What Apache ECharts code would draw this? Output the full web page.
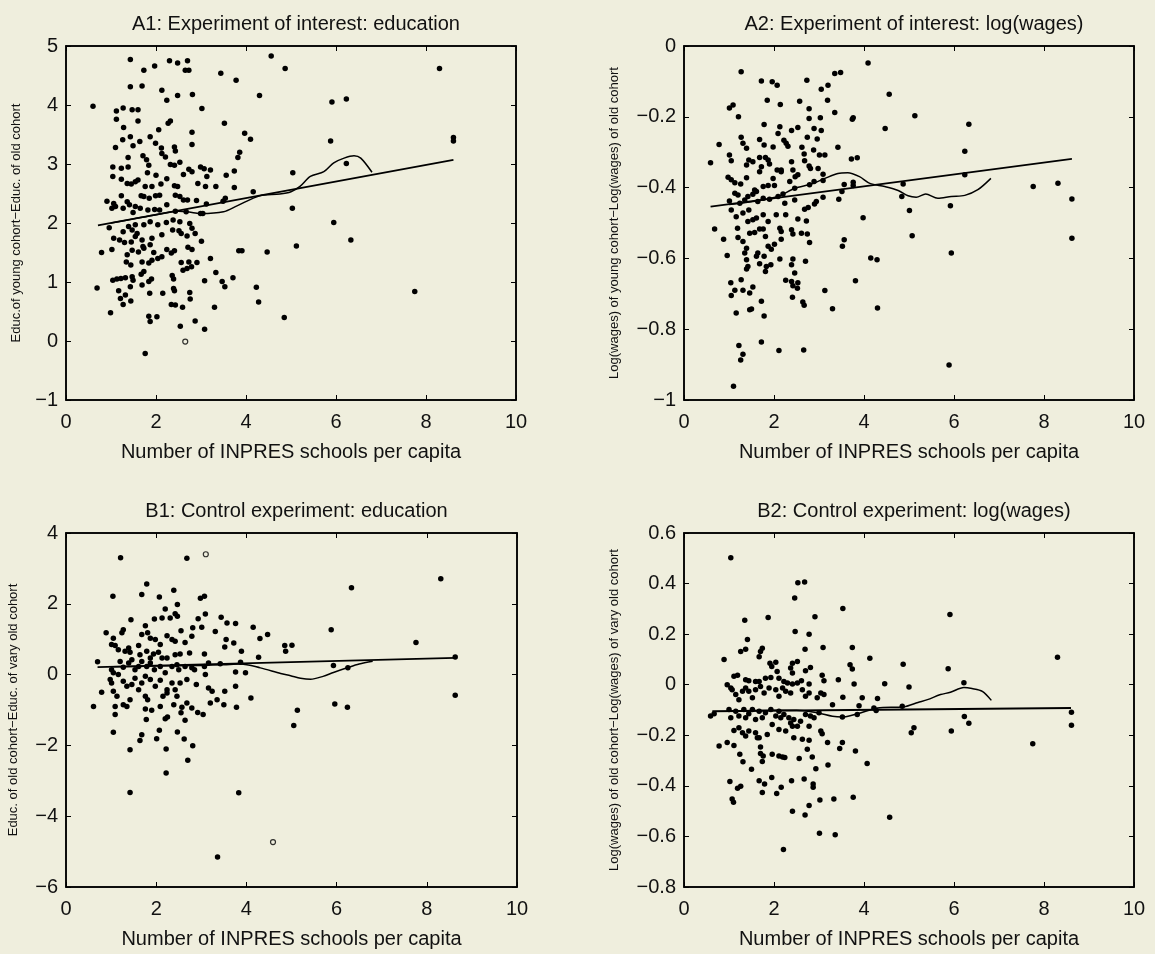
<!DOCTYPE html>
<html><head><meta charset="utf-8">
<script src="https://cdn.jsdelivr.net/npm/echarts@6/dist/echarts.min.js"></script>
<style>html,body{margin:0;padding:0;background:#efeedd}#c{width:1155px;height:954px}</style>
</head><body><div id="c"></div><script>
// ---------- DATA ----------
const xLabel = 'Number of INPRES schools per capita';
const titles = ['A1: Experiment of interest: education','A2: Experiment of interest: log(wages)','B1: Control experiment: education','B2: Control experiment: log(wages)'];
const yNames = ['Educ.of young cohort\u2212Educ. of old cohort','Log(wages) of young cohort\u2212Log(wages) of old cohort','Educ. of old cohort\u2212Educ. of vary old cohort','Log(wages) of old cohort\u2212Log(wages) of vary old cohort'];
const xRange = [0, 10, 2];
const yRanges = [[-1, 5, 1], [-1, 0, 0.2], [-6, 4, 2], [-0.8, 0.6, 0.2]];

const a1Points = [[1.43,4.77],[1.73,4.59],[1.97,4.66],[2.30,4.75],[2.48,4.71],[2.70,4.75],[2.65,4.59],[2.73,4.59],[3.44,4.54],[3.78,4.42],[4.56,4.83],[4.87,4.62],[1.43,4.31],[1.69,4.32],[2.13,4.25],[2.24,4.08],[2.48,4.16],[2.81,4.18],[4.30,4.16],[0.60,3.98],[1.12,3.90],[1.27,3.95],[1.47,3.92],[1.60,3.92],[1.12,3.76],[1.60,3.73],[2.27,3.69],[2.32,3.73],[3.02,3.94],[3.52,3.69],[1.28,3.62],[2.06,3.58],[2.80,3.54],[3.97,3.52],[4.10,3.42],[1.10,3.28],[1.26,3.41],[1.43,3.46],[1.49,3.31],[1.64,3.38],[1.87,3.46],[1.99,3.35],[2.12,3.27],[2.13,3.18],[2.21,3.12],[2.41,3.29],[2.43,3.22],[2.80,3.33],[3.86,3.20],[3.82,3.11],[1.38,3.11],[1.71,3.14],[1.79,3.07],[1.84,2.98],[1.04,2.95],[1.23,2.93],[1.38,2.95],[2.32,2.99],[2.41,2.98],[2.53,3.03],[2.73,2.91],[2.80,2.87],[2.99,2.95],[3.07,2.92],[3.21,2.90],[3.56,2.81],[3.74,2.88],[1.04,2.79],[1.23,2.74],[1.36,2.67],[1.45,2.66],[1.54,2.70],[1.60,2.73],[1.81,2.85],[2.00,2.81],[2.24,2.75],[2.61,2.82],[2.93,2.67],[3.13,2.79],[3.10,2.62],[3.33,2.62],[3.74,2.60],[4.16,2.53],[1.76,2.62],[1.91,2.62],[2.11,2.66],[2.41,2.63],[2.48,2.62],[1.67,2.46],[1.73,2.45],[1.85,2.42],[1.99,2.46],[2.08,2.47],[2.43,2.47],[2.53,2.45],[2.61,2.39],[2.70,2.39],[2.90,2.38],[3.12,2.32],[3.49,2.37],[3.54,2.42],[0.91,2.37],[1.06,2.33],[1.10,2.28],[1.02,2.25],[1.23,2.46],[1.36,2.36],[1.27,2.25],[1.41,2.31],[1.54,2.28],[1.49,2.18],[1.65,2.25],[1.82,2.22],[1.97,2.23],[2.08,2.22],[2.24,2.31],[2.43,2.20],[2.67,2.19],[2.99,2.16],[3.04,2.16],[0.96,1.92],[1.27,1.85],[1.39,1.94],[1.47,1.88],[1.54,1.97],[1.58,1.82],[1.73,1.97],[1.87,2.02],[2.04,1.97],[2.23,2.01],[2.38,2.05],[2.53,2.02],[2.75,1.99],[2.80,1.91],[2.87,1.82],[1.06,1.74],[1.19,1.71],[1.30,1.67],[1.45,1.68],[1.54,1.77],[1.69,1.71],[1.71,1.60],[1.91,1.74],[2.13,1.80],[2.37,1.88],[2.51,1.87],[2.56,1.82],[2.69,1.78],[3.01,1.69],[0.79,1.50],[1.02,1.55],[1.36,1.46],[1.47,1.54],[1.61,1.51],[1.73,1.57],[1.87,1.63],[1.95,1.50],[2.04,1.40],[2.13,1.43],[2.24,1.55],[2.41,1.53],[2.71,1.59],[2.80,1.55],[1.34,1.34],[1.44,1.29],[1.69,1.34],[1.84,1.32],[1.91,1.37],[2.34,1.49],[2.56,1.33],[2.73,1.34],[2.91,1.33],[3.21,1.40],[3.84,1.53],[3.91,1.53],[4.47,1.51],[1.04,1.03],[1.13,1.05],[1.22,1.06],[1.32,1.07],[1.47,1.09],[1.49,1.03],[1.67,1.13],[1.73,1.18],[1.84,1.01],[1.90,1.05],[2.36,1.11],[2.39,1.05],[2.60,1.20],[2.69,1.23],[2.79,1.26],[3.08,1.02],[3.33,1.16],[3.47,1.01],[3.53,0.92],[3.71,1.07],[0.69,0.90],[1.17,0.85],[1.32,0.78],[1.43,0.92],[1.69,0.95],[1.86,0.81],[2.15,0.81],[2.39,0.89],[2.41,0.85],[2.75,0.82],[1.21,0.72],[1.27,0.62],[1.44,0.68],[2.34,0.62],[2.43,0.61],[2.59,0.57],[2.76,0.71],[3.30,0.57],[4.23,0.91],[4.28,0.66],[0.99,0.48],[1.84,0.42],[1.87,0.33],[2.02,0.41],[2.54,0.25],[2.87,0.34],[3.08,0.20],[4.85,0.40],[1.76,-0.21],[8.30,4.62],[5.91,4.05],[6.23,4.10],[5.88,3.39],[8.61,3.45],[8.61,3.39],[6.23,3.01],[5.04,2.85],[5.03,2.25],[5.95,2.01],[6.33,1.71],[5.12,1.61],[7.75,0.84]];
const a1Hollow = [[2.65,-0.01]];
const a1Linear = [[0.71,1.96],[8.61,3.07]];
const a1Smooth = [[1.0,2.0],[1.5,2.07],[2.0,2.14],[2.5,2.20],[2.8,2.18],[3.0,2.16],[3.5,2.19],[3.8,2.29],[4.3,2.46],[4.75,2.49],[5.0,2.53],[5.2,2.62],[5.43,2.79],[5.73,2.87],[5.95,3.02],[6.18,3.10],[6.4,3.14],[6.55,3.10],[6.8,2.86]];

const a2Points = [[1.27,-0.073],[1.72,-0.099],[1.96,-0.101],[2.07,-0.111],[2.73,-0.097],[3.35,-0.078],[3.48,-0.075],[3.05,-0.122],[3.20,-0.111],[3.19,-0.153],[4.09,-0.048],[4.56,-0.136],[1.01,-0.175],[1.09,-0.167],[1.21,-0.200],[1.85,-0.153],[2.14,-0.165],[2.57,-0.156],[2.78,-0.177],[3.35,-0.188],[2.78,-0.205],[3.03,-0.203],[3.76,-0.203],[3.74,-0.207],[4.47,-0.233],[0.78,-0.278],[1.27,-0.258],[1.31,-0.275],[1.39,-0.289],[1.78,-0.222],[1.68,-0.264],[1.78,-0.280],[1.98,-0.285],[2.09,-0.247],[2.13,-0.228],[2.22,-0.266],[2.27,-0.275],[2.31,-0.283],[2.39,-0.239],[2.53,-0.230],[2.62,-0.286],[2.74,-0.258],[2.89,-0.233],[2.96,-0.263],[3.05,-0.239],[2.88,-0.294],[3.42,-0.286],[0.59,-0.330],[1.01,-0.308],[1.05,-0.324],[1.39,-0.336],[1.44,-0.322],[1.53,-0.327],[1.68,-0.315],[1.72,-0.341],[1.81,-0.315],[1.87,-0.322],[1.90,-0.333],[1.68,-0.355],[2.07,-0.350],[2.16,-0.350],[2.39,-0.327],[2.42,-0.350],[2.67,-0.305],[2.68,-0.324],[2.78,-0.339],[2.81,-0.346],[2.98,-0.346],[3.01,-0.308],[3.13,-0.308],[3.72,-0.319],[3.85,-0.316],[0.98,-0.371],[1.05,-0.378],[1.13,-0.386],[1.26,-0.390],[1.39,-0.372],[1.57,-0.407],[1.76,-0.397],[1.87,-0.394],[2.01,-0.394],[1.98,-0.374],[2.16,-0.355],[2.35,-0.383],[2.47,-0.369],[2.53,-0.364],[2.46,-0.402],[2.79,-0.392],[2.89,-0.383],[3.09,-0.362],[3.09,-0.380],[3.56,-0.391],[3.76,-0.385],[3.76,-0.394],[4.87,-0.390],[1.01,-0.438],[1.13,-0.416],[1.20,-0.421],[1.24,-0.444],[1.35,-0.435],[1.42,-0.425],[1.44,-0.463],[1.53,-0.419],[1.61,-0.411],[1.64,-0.439],[1.76,-0.430],[1.90,-0.433],[2.09,-0.425],[2.20,-0.418],[2.24,-0.444],[2.46,-0.435],[2.68,-0.461],[2.76,-0.456],[2.90,-0.446],[2.94,-0.439],[3.09,-0.427],[3.44,-0.433],[3.51,-0.411],[4.84,-0.425],[1.05,-0.463],[1.16,-0.482],[1.31,-0.472],[1.42,-0.496],[1.53,-0.491],[1.61,-0.486],[1.76,-0.477],[1.87,-0.496],[2.05,-0.477],[2.13,-0.515],[2.16,-0.524],[2.26,-0.477],[2.53,-0.489],[2.72,-0.494],[3.98,-0.485],[0.68,-0.517],[0.88,-0.546],[1.19,-0.515],[1.20,-0.541],[1.31,-0.552],[1.39,-0.571],[1.46,-0.529],[1.57,-0.527],[1.68,-0.517],[1.76,-0.517],[1.81,-0.538],[1.87,-0.566],[1.94,-0.574],[2.01,-0.560],[2.16,-0.546],[2.39,-0.519],[2.42,-0.531],[2.61,-0.529],[2.74,-0.531],[2.79,-0.555],[3.52,-0.566],[3.56,-0.547],[0.96,-0.592],[1.35,-0.585],[1.39,-0.604],[1.61,-0.594],[1.64,-0.585],[1.78,-0.594],[1.68,-0.615],[1.83,-0.623],[1.93,-0.618],[2.13,-0.602],[2.39,-0.618],[2.42,-0.602],[2.46,-0.641],[2.70,-0.608],[1.42,-0.623],[1.39,-0.630],[1.81,-0.637],[4.15,-0.599],[4.29,-0.604],[1.04,-0.669],[1.05,-0.705],[1.13,-0.690],[1.27,-0.660],[1.31,-0.690],[1.46,-0.698],[1.53,-0.681],[2.26,-0.662],[2.39,-0.665],[2.42,-0.677],[2.53,-0.669],[2.52,-0.684],[2.41,-0.710],[2.64,-0.723],[2.67,-0.732],[3.13,-0.691],[3.81,-0.663],[1.16,-0.754],[1.46,-0.745],[1.50,-0.743],[1.78,-0.763],[1.72,-0.721],[3.30,-0.742],[4.30,-0.740],[1.22,-0.846],[1.31,-0.871],[1.26,-0.887],[1.72,-0.836],[2.11,-0.860],[2.66,-0.859],[1.10,-0.961],[5.13,-0.197],[6.33,-0.221],[6.24,-0.297],[6.24,-0.364],[7.76,-0.397],[8.31,-0.388],[8.62,-0.432],[8.62,-0.543],[5.01,-0.465],[5.92,-0.451],[5.07,-0.536],[5.94,-0.585],[5.89,-0.901]];
const a2Hollow = [];
const a2Linear = [[0.59,-0.454],[8.62,-0.319]];
const a2Smooth = [[1.0,-0.448],[1.5,-0.44],[2.09,-0.425],[2.46,-0.402],[2.83,-0.39],[3.13,-0.374],[3.42,-0.36],[3.64,-0.358],[3.9,-0.369],[4.13,-0.388],[4.46,-0.397],[4.76,-0.408],[4.98,-0.423],[5.16,-0.427],[5.37,-0.418],[5.64,-0.43],[5.94,-0.425],[6.24,-0.422],[6.53,-0.406],[6.82,-0.374]];

const b1Points = [[1.21,3.30],[2.68,3.29],[1.79,2.56],[1.04,2.21],[1.68,2.26],[2.07,2.19],[2.39,2.38],[2.98,2.16],[3.07,2.21],[2.47,1.98],[2.20,1.85],[2.42,1.72],[2.47,1.65],[1.44,1.55],[1.96,1.57],[2.13,1.60],[2.31,1.60],[2.93,1.58],[3.09,1.71],[3.44,1.62],[3.57,1.46],[3.76,1.44],[4.15,1.34],[4.47,1.13],[4.30,1.02],[4.85,0.82],[4.87,0.66],[0.89,1.18],[1.05,1.03],[1.24,1.18],[1.27,1.27],[1.76,1.38],[1.68,1.13],[1.81,1.18],[1.87,1.03],[1.98,0.99],[2.09,0.85],[2.24,1.10],[2.35,0.99],[2.42,0.94],[2.55,1.24],[2.64,0.91],[2.79,1.08],[2.81,1.32],[3.01,1.34],[3.31,1.22],[3.52,0.78],[3.55,0.99],[3.72,0.89],[3.89,0.66],[3.42,0.31],[3.87,0.35],[4.27,0.49],[0.70,0.36],[1.01,0.85],[1.09,0.82],[1.16,0.70],[1.31,0.66],[1.42,0.63],[1.39,0.75],[1.61,0.82],[1.64,0.56],[1.79,0.66],[1.87,0.47],[1.94,0.58],[2.05,0.63],[2.13,0.47],[2.24,0.47],[2.42,0.56],[2.53,0.58],[2.74,0.61],[3.07,0.58],[3.07,0.23],[3.16,0.33],[1.01,0.14],[1.05,0.05],[1.20,0.37],[1.27,0.21],[1.39,0.33],[1.46,0.42],[1.53,0.14],[1.61,0.23],[1.68,0.37],[1.79,0.23],[1.87,0.33],[1.96,0.14],[2.09,0.23],[2.20,0.05],[2.35,0.23],[2.46,0.28],[2.50,0.14],[2.64,0.23],[2.79,0.19],[2.85,0.14],[3.09,0.00],[3.76,0.07],[3.98,0.05],[0.79,-0.50],[0.98,-0.14],[1.01,-0.24],[1.16,0.00],[1.27,-0.19],[1.35,-0.33],[1.46,-0.28],[1.53,-0.10],[1.61,-0.43],[1.68,-0.24],[1.76,-0.05],[1.87,-0.14],[1.98,-0.33],[2.09,-0.16],[2.24,-0.43],[2.35,-0.24],[2.42,-0.43],[2.53,-0.24],[2.68,-0.14],[2.89,-0.28],[3.16,-0.38],[3.24,-0.47],[3.35,-0.71],[3.52,-0.47],[3.76,-0.33],[0.61,-0.90],[1.05,-0.47],[1.13,-0.61],[1.09,-0.90],[1.09,-1.13],[1.27,-0.85],[1.35,-0.90],[1.42,-0.71],[1.76,-0.61],[1.81,-0.71],[1.90,-1.01],[2.09,-0.90],[2.15,-0.61],[2.24,-0.52],[2.39,-0.85],[2.46,-0.61],[2.57,-0.92],[2.68,-0.80],[2.79,-0.94],[2.92,-1.07],[3.04,-1.13],[3.20,-0.80],[3.50,-0.85],[3.78,-0.92],[4.10,-0.66],[1.76,-0.97],[1.78,-1.27],[2.20,-1.25],[2.25,-1.20],[2.55,-1.08],[2.64,-1.29],[1.05,-1.63],[1.64,-1.86],[1.68,-1.70],[2.01,-1.81],[2.07,-1.57],[2.47,-1.62],[2.62,-1.82],[2.81,-2.01],[1.42,-2.12],[2.22,-2.10],[2.70,-2.42],[2.22,-2.78],[1.42,-3.33],[3.83,-3.34],[3.36,-5.15],[6.33,2.45],[8.31,2.71],[5.88,1.27],[5.01,0.83],[7.76,0.91],[8.63,0.50],[5.93,0.26],[6.25,0.19],[5.13,-1.01],[5.05,-1.44],[5.96,-0.83],[6.24,-0.92],[8.63,-0.58]];
const b1Hollow = [[3.10,3.40],[4.59,-4.73]];
const b1Linear = [[0.70,0.21],[8.63,0.47]];
const b1Smooth = [[1.0,0.22],[2.0,0.24],[3.0,0.26],[3.5,0.28],[3.87,0.30],[4.31,0.19],[4.76,0.03],[4.98,-0.03],[5.2,-0.10],[5.42,-0.13],[5.7,-0.05],[5.93,0.06],[6.25,0.20],[6.5,0.30],[6.8,0.38]];

const b2Points = [[1.04,0.502],[2.53,0.403],[2.68,0.406],[2.46,0.343],[3.53,0.301],[1.35,0.255],[1.87,0.266],[2.91,0.269],[2.47,0.210],[2.78,0.200],[1.41,0.179],[1.26,0.131],[1.37,0.140],[1.74,0.144],[1.70,0.131],[1.67,0.111],[2.69,0.140],[3.09,0.147],[3.74,0.147],[4.13,0.105],[0.89,0.100],[1.91,0.085],[2.04,0.089],[1.95,0.072],[2.41,0.085],[2.52,0.092],[2.37,0.066],[2.41,0.046],[2.70,0.055],[2.81,0.068],[3.69,0.079],[3.74,0.062],[4.87,0.081],[1.11,0.033],[1.19,0.037],[0.96,0.000],[1.04,-0.013],[1.37,0.020],[1.44,0.016],[1.59,0.013],[1.67,0.013],[1.81,0.026],[1.93,0.029],[2.07,0.052],[2.11,0.026],[2.22,0.013],[2.30,0.007],[2.41,0.003],[2.52,0.007],[2.61,0.016],[2.78,0.003],[3.11,0.016],[3.07,0.037],[3.43,0.020],[3.78,0.003],[4.46,0.004],[1.07,-0.020],[1.15,-0.039],[1.22,-0.059],[1.30,-0.026],[1.37,-0.013],[1.44,-0.026],[1.52,-0.052],[1.59,-0.020],[1.70,-0.007],[1.78,-0.033],[1.89,-0.013],[2.04,-0.020],[2.11,-0.046],[2.19,-0.013],[2.26,-0.026],[2.37,-0.033],[2.63,-0.020],[2.70,-0.046],[2.78,-0.033],[2.96,-0.052],[3.04,-0.033],[3.11,-0.039],[3.30,-0.079],[3.53,-0.050],[3.96,-0.052],[4.30,-0.055],[3.89,-0.083],[0.59,-0.124],[0.67,-0.115],[1.00,-0.098],[1.04,-0.131],[1.15,-0.105],[1.22,-0.124],[1.33,-0.098],[1.37,-0.131],[1.44,-0.115],[1.52,-0.098],[1.59,-0.138],[1.67,-0.105],[1.74,-0.131],[1.81,-0.111],[1.93,-0.098],[2.04,-0.124],[2.11,-0.105],[2.15,-0.131],[2.22,-0.118],[2.33,-0.131],[2.37,-0.151],[2.44,-0.138],[2.52,-0.164],[2.59,-0.144],[2.70,-0.118],[2.81,-0.124],[2.89,-0.131],[3.00,-0.111],[3.52,-0.128],[3.85,-0.118],[4.22,-0.092],[4.27,-0.102],[4.85,-0.085],[1.11,-0.181],[1.22,-0.170],[1.30,-0.190],[1.37,-0.203],[1.44,-0.183],[1.59,-0.190],[1.67,-0.210],[1.85,-0.197],[1.96,-0.157],[2.11,-0.177],[2.26,-0.183],[2.41,-0.164],[2.78,-0.164],[3.04,-0.183],[3.07,-0.194],[0.78,-0.242],[0.96,-0.229],[1.11,-0.240],[1.63,-0.210],[1.70,-0.246],[2.44,-0.210],[2.63,-0.216],[2.78,-0.220],[3.19,-0.229],[3.46,-0.252],[3.52,-0.229],[3.81,-0.262],[1.24,-0.275],[1.31,-0.305],[1.70,-0.272],[1.76,-0.282],[1.74,-0.304],[1.96,-0.275],[2.11,-0.282],[2.19,-0.286],[2.24,-0.288],[2.56,-0.292],[2.74,-0.255],[2.85,-0.286],[3.20,-0.318],[4.07,-0.312],[1.50,-0.334],[2.93,-0.332],[1.02,-0.383],[1.19,-0.409],[1.26,-0.402],[1.67,-0.380],[1.74,-0.426],[1.79,-0.393],[1.95,-0.367],[2.06,-0.430],[2.16,-0.406],[2.39,-0.380],[2.67,-0.373],[2.87,-0.393],[2.87,-0.406],[1.07,-0.452],[1.10,-0.465],[2.41,-0.500],[2.69,-0.515],[2.78,-0.478],[3.02,-0.456],[3.33,-0.452],[3.76,-0.445],[4.57,-0.524],[3.01,-0.587],[3.36,-0.593],[2.21,-0.652],[5.91,0.278],[5.87,0.063],[5.00,-0.009],[6.22,0.008],[8.30,0.109],[6.23,-0.126],[6.33,-0.152],[5.11,-0.170],[5.05,-0.190],[5.94,-0.183],[8.61,-0.109],[8.61,-0.160],[7.75,-0.233]];
const b2Hollow = [];
const b2Linear = [[0.63,-0.105],[8.60,-0.092]];
const b2Smooth = [[1.0,-0.104],[2.0,-0.101],[2.5,-0.101],[2.96,-0.111],[3.3,-0.125],[3.52,-0.128],[3.85,-0.115],[4.3,-0.092],[4.89,-0.087],[5.2,-0.07],[5.41,-0.059],[5.7,-0.039],[5.92,-0.03],[6.22,-0.011],[6.4,-0.015],[6.63,-0.026],[6.83,-0.062]];

// ---------- LAYOUT / STYLE ----------
const FONT = '"Liberation Sans", Arial, Helvetica, sans-serif';
const INK = '#000';
const BG = '#efeedd';
const grids = [
  {left: 66, top: 46, width: 450, height: 354},
  {left: 684, top: 46, width: 450, height: 354},
  {left: 66, top: 533, width: 451, height: 354},
  {left: 684, top: 533, width: 450, height: 354}
];
const yGaps = [43, 63, 46, 63];
const panels = [
  [a1Points, a1Hollow, a1Linear, a1Smooth],
  [a2Points, a2Hollow, a2Linear, a2Smooth],
  [b1Points, b1Hollow, b1Linear, b1Smooth],
  [b2Points, b2Hollow, b2Linear, b2Smooth]
];
const fmt = v => { const r = Math.round(v * 10) / 10; return (r < 0 ? '\u2212' : '') + String(Math.abs(r)); };

const option = {
  backgroundColor: BG,
  animation: false,
  title: [], grid: [], xAxis: [], yAxis: [], series: []
};
const tickStyle = {inside: true, length: 5, lineStyle: {color: INK, width: 1}};
const lineStyle = {color: INK, width: 1.5};

grids.forEach((g, i) => {
  option.grid.push(Object.assign({show: true, borderColor: INK, borderWidth: 1.5, backgroundColor: 'transparent', containLabel: false}, g));
  option.title.push({
    text: titles[i], left: g.left + g.width / 2, top: g.top - 37, textAlign: 'center',
    textStyle: {fontFamily: FONT, fontSize: 20, fontWeight: 'normal', color: '#111'}
  });
  const yr = yRanges[i];
  option.xAxis.push({
    gridIndex: i, type: 'value', min: xRange[0], max: xRange[1], interval: xRange[2], position: 'bottom',
    axisLine: {show: true, onZero: false, lineStyle}, axisTick: tickStyle, splitLine: {show: false},
    axisLabel: {color: '#111', fontFamily: FONT, fontSize: 20, margin: 12, formatter: fmt},
    name: xLabel, nameLocation: 'middle', nameGap: 42,
    nameTextStyle: {color: '#111', fontFamily: FONT, fontSize: 20}
  });
  option.xAxis.push({
    gridIndex: i, type: 'value', min: xRange[0], max: xRange[1], interval: xRange[2], position: 'top',
    axisLine: {show: true, onZero: false, lineStyle}, axisTick: tickStyle, splitLine: {show: false},
    axisLabel: {show: false}
  });
  option.yAxis.push({
    gridIndex: i, type: 'value', min: yr[0], max: yr[1], interval: yr[2], position: 'left',
    axisLine: {show: true, onZero: false, lineStyle}, axisTick: tickStyle, splitLine: {show: false},
    axisLabel: {color: '#111', fontFamily: FONT, fontSize: 20, margin: 8, formatter: fmt},
    name: yNames[i], nameLocation: 'middle', nameGap: yGaps[i],
    nameTextStyle: {color: '#111', fontFamily: FONT, fontSize: 13}
  });
  option.yAxis.push({
    gridIndex: i, type: 'value', min: yr[0], max: yr[1], interval: yr[2], position: 'right',
    axisLine: {show: true, onZero: false, lineStyle}, axisTick: tickStyle, splitLine: {show: false},
    axisLabel: {show: false}
  });
  const [pts, hol, lin, smo] = panels[i];
  const xi = i * 2, yi = i * 2;
  option.series.push({type: 'scatter', xAxisIndex: xi, yAxisIndex: yi, data: pts, symbolSize: 5.5, itemStyle: {color: INK, opacity: 1}, z: 3});
  option.series.push({type: 'scatter', xAxisIndex: xi, yAxisIndex: yi, data: hol, symbolSize: 5, itemStyle: {color: BG, borderColor: INK, borderWidth: 1.2}, z: 3});
  option.series.push({type: 'line', xAxisIndex: xi, yAxisIndex: yi, data: lin, showSymbol: false, lineStyle: {color: INK, width: 1.8}, z: 4});
  option.series.push({type: 'line', xAxisIndex: xi, yAxisIndex: yi, data: smo, showSymbol: false, smooth: 0.3, lineStyle: {color: INK, width: 1.5}, z: 4});
});

const chart = echarts.init(document.getElementById('c'), null, {renderer: 'canvas'});
chart.setOption(option);
</script></body></html>
